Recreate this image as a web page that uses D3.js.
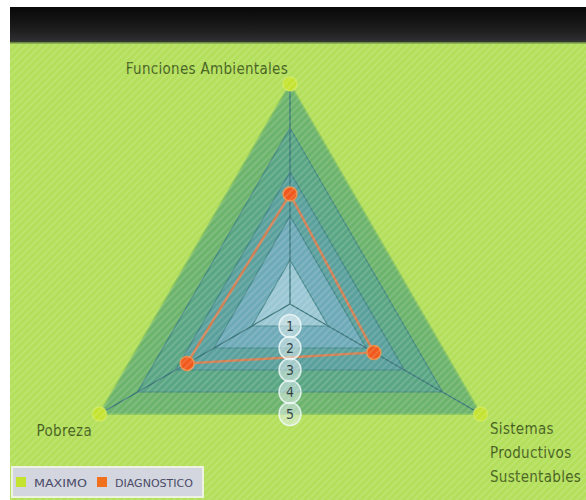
<!DOCTYPE html>
<html>
<head>
<meta charset="utf-8">
<script src="https://cdn.jsdelivr.net/npm/d3@7"></script>
<style>
  body { margin: 0; background: #fff; }
  svg { display: block; }
  .axis-label { font-family: "DejaVu Sans Condensed", "Liberation Sans Narrow", sans-serif; font-size: 15px; fill: #44601a; letter-spacing: 0.3px; }
  .tick-label { font-family: "DejaVu Sans Condensed", sans-serif; font-size: 14px; fill: #2c3c40; }
  .legend-text { font-family: "DejaVu Sans", sans-serif; font-size: 11px; fill: #4a4a68; }
</style>
</head>
<body>
<svg id="chart"></svg>
<script>
var width = 586, height = 500;

// data
var axes = ["Funciones Ambientales", "Sistemas Productivos Sustentables", "Pobreza"];
var maximo = [5, 5, 5];
var diagnostico = [2.5, 2.2, 2.7];
var levels = [1, 2, 3, 4, 5];
var seriesNames = ["MAXIMO", "DIAGNOSTICO"];

var lime = "#c4e330",
    orange = "#f0581c";

var bandColors = ["#9ac7d3", "#6eaab8", "#5aa09c", "#5aa684", "#6cb36c"];

var cx = 290, cy = 304;
var r = d3.scaleLinear().domain([0, 5]).range([0, 220]);

function angle(i){ return -Math.PI / 2 + i * 2 * Math.PI / axes.length; }
function pt(v, i){ return [cx + r(v) * Math.cos(angle(i)), cy + r(v) * Math.sin(angle(i))]; }
function poly(vals){ return vals.map(function(v, i){ return pt(v, i); }); }
var line = d3.line().curve(d3.curveLinearClosed);

var svg = d3.select("#chart").attr("width", width).attr("height", height);
var defs = svg.append("defs");

//Stripes
var pat = defs.append("pattern")
  .attr("id", "stripes").attr("patternUnits", "userSpaceOnUse")
  .attr("width", 5).attr("height", 5)
  .attr("patternTransform", "rotate(45)");
pat.append("rect").attr("width", 2).attr("height", 5).attr("fill", "rgba(255,255,255,0.13)");

var hg = defs.append("linearGradient").attr("id", "header").attr("x1", 0).attr("y1", 0).attr("x2", 0).attr("y2", 1);
hg.append("stop").attr("offset", "0%").attr("stop-color", "#080808");
hg.append("stop").attr("offset", "60%").attr("stop-color", "#1c1c1c");
hg.append("stop").attr("offset", "90%").attr("stop-color", "#2c2c2e");
hg.append("stop").attr("offset", "100%").attr("stop-color", "#3a4230");

//Background
svg.append("rect").attr("x", 10).attr("y", 43).attr("width", width - 10).attr("height", height - 43).attr("fill", "#b3df5a");
svg.append("rect").attr("x", 10).attr("y", 7).attr("width", width - 10).attr("height", 36).attr("fill", "url(#header)");
svg.append("rect").attr("x", 10).attr("y", 42).attr("width", width - 10).attr("height", 1.5).attr("fill", "#6f8a48");

var g = svg.append("g");

//Level bands, outer first
levels.slice().reverse().forEach(function(l){
  g.append("path")
    .attr("d", line(poly(axes.map(function(){ return l; }))))
    .attr("fill", bandColors[l - 1])
    .attr("stroke", l == 5 ? "#7fbf62" : "#3d7f82")
    .attr("stroke-width", l == 5 ? 2 : 1.2)
    .attr("stroke-opacity", 0.8);
});

//Axis lines
axes.forEach(function(a, i){
  var p = pt(5, i);
  g.append("line")
    .attr("x1", cx).attr("y1", cy).attr("x2", p[0]).attr("y2", p[1])
    .style("stroke", "#3a7478").style("stroke-width", 1.3);
});

//Stripes over chart area
svg.append("rect").attr("x", 10).attr("y", 44).attr("width", width - 10).attr("height", height - 44).attr("fill", "url(#stripes)");

//Diagnostico series
g.append("path")
  .attr("d", line(poly(diagnostico)))
  .attr("fill", "none")
  .attr("stroke", "#e67a48")
  .attr("stroke-width", 2.5)
  .attr("stroke-opacity", 0.85);

g.selectAll(".dot-max")
  .data(poly(maximo))
  .enter().append("circle")
  .attr("class", "dot-max")
  .attr("cx", function(d){ return d[0]; })
  .attr("cy", function(d){ return d[1]; })
  .attr("r", 7)
  .style("fill", lime)
  .style("stroke", "#d8ee60").style("stroke-width", 1.5).style("stroke-opacity", 0.6);

g.selectAll(".dot-diag")
  .data(poly(diagnostico))
  .enter().append("circle")
  .attr("class", "dot-diag")
  .attr("cx", function(d){ return d[0]; })
  .attr("cy", function(d){ return d[1]; })
  .attr("r", 7)
  .style("fill", orange)
  .style("stroke", "#e8904a").style("stroke-width", 1.5);

//Tick bubbles down the bottom edges
levels.forEach(function(l){
  var y = cy + r(l) / 2;
  g.append("ellipse")
    .attr("cx", cx).attr("cy", y).attr("rx", 11).attr("ry", 11.5)
    .attr("fill", "rgba(225,238,238,0.55)")
    .attr("stroke", "rgba(240,250,250,0.8)").attr("stroke-width", 1.5);
  g.append("text")
    .attr("class", "tick-label")
    .attr("x", cx).attr("y", y + 5)
    .attr("text-anchor", "middle")
    .text(l);
});

//Axis labels
g.append("text").attr("class", "axis-label")
  .attr("x", 288).attr("y", 74).attr("text-anchor", "end")
  .text(axes[0]);

var lab = g.append("text").attr("class", "axis-label").attr("x", 490).attr("y", 434);
axes[1].split(" ").forEach(function(w, k){
  lab.append("tspan").attr("x", 490).attr("dy", k ? 24 : 0).text(w);
});

g.append("text").attr("class", "axis-label")
  .attr("x", 92).attr("y", 436).attr("text-anchor", "end")
  .text(axes[2]);

//Legend
var legend = svg.append("g").attr("transform", "translate(12,467)");
legend.append("rect").attr("width", 191).attr("height", 30)
  .attr("fill", "#d3d6de").attr("stroke", "#eef2e0").attr("stroke-width", 2);
var legendX = [4, 85], legendW = [53, 78];
seriesNames.forEach(function(n, i){
  legend.append("rect").attr("x", legendX[i]).attr("y", 10).attr("width", 10).attr("height", 10)
    .attr("fill", i ? "#f0701e" : lime);
  legend.append("text").attr("class", "legend-text")
    .attr("x", legendX[i] + 18).attr("y", 19.5)
    .attr("textLength", legendW[i]).attr("lengthAdjust", "spacingAndGlyphs")
    .text(n);
});
</script>
</body>
</html>
